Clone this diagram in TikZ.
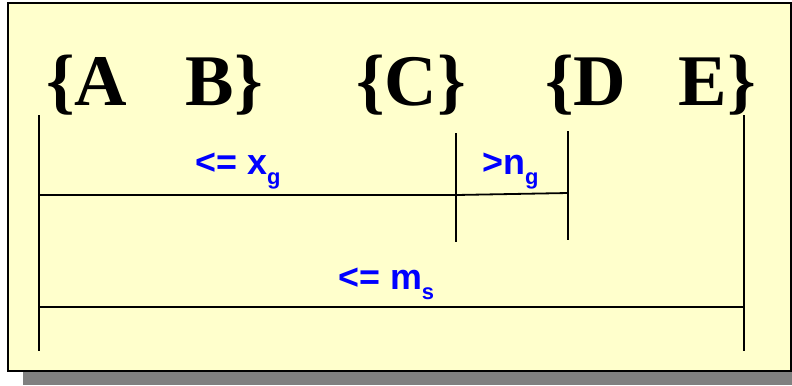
\documentclass[tikz,border=0pt]{standalone}
\usepackage{fontspec}
\setmainfont{Liberation Serif}
\newfontfamily\lab{Liberation Sans}
\definecolor{bg}{HTML}{FFFFCC}
\definecolor{lblue}{HTML}{0000FF}
\definecolor{shad}{HTML}{808080}
\newcommand{\lsub}[1]{\raisebox{-0.55ex}{\fontsize{22}{22}\selectfont #1}}
\begin{document}
\begin{tikzpicture}[x=1bp,y=-1bp,
  big/.style={inner sep=0pt,anchor=base west,font=\fontsize{73}{73}\selectfont\bfseries},
  lbl/.style={inner sep=0pt,anchor=base west,text=lblue,font=\fontsize{36}{36}\selectfont\lab\bfseries},
  ln/.style={draw=black,line width=1.8bp}]
\useasboundingbox (0,0) rectangle (792,385);
\fill[shad] (23,371) rectangle (792,385);
\draw[fill=bg,line width=2bp] (8,3) rectangle (791,371);
% texts
\node[big] (ab) at (46,105) {\{A\hspace{0.8em}B\}};
\node[big] (c) at (356,105) {\{C\}};
\node[big] (de) at (545,105) {\{D\hspace{0.72em}E\}};
\node[lbl] (xg) at (195,174) {<= x\lsub{g}};
\node[lbl] (ng) at (482,174) {>n\lsub{g}};
\node[lbl] (ms) at (338,289) {<= m\lsub{s}};
% coordinates
\coordinate (lt) at (39,115); \coordinate (lb) at (39,351);
\coordinate (rt) at (744,115); \coordinate (rb) at (744,351);
\coordinate (ct) at (456,133); \coordinate (cb) at (456,242);
\coordinate (dt) at (568,131); \coordinate (db) at (568,240);
\coordinate (h1a) at (39,195); \coordinate (h1b) at (456,195); \coordinate (h1c) at (568,193);
\coordinate (h2a) at (39,307); \coordinate (h2b) at (744,307);
\draw[ln] (lt) -- (lb);
\draw[ln] (rt) -- (rb);
\draw[ln] (ct) -- (cb);
\draw[ln] (dt) -- (db);
\draw[ln] (h1a) -- (h1b) -- (h1c);
\draw[ln] (h2a) -- (h2b);
\end{tikzpicture}
\end{document}
